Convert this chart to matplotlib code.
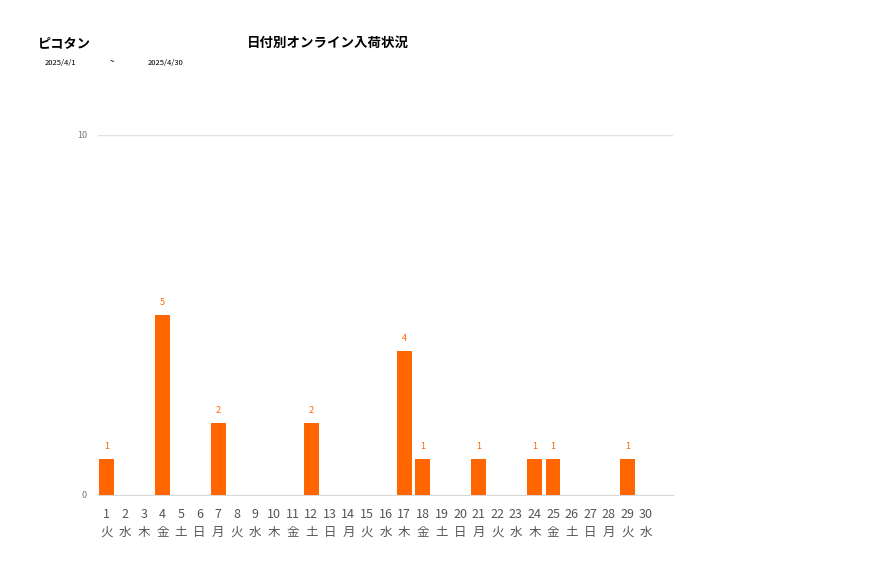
import matplotlib
matplotlib.use('Agg')
import matplotlib.pyplot as plt

plt.rcParams['font.family'] = ['Noto Sans CJK JP', 'DejaVu Sans']

# datos del grafico
dias = list(range(1, 31))
semana = ['火', '水', '木', '金', '土', '日', '月'] * 5
semana = semana[:30]
cantidad = [1, 0, 0, 5, 0, 0, 2, 0, 0, 0,
            0, 2, 0, 0, 0, 0, 4, 1, 0, 0,
            1, 0, 0, 1, 1, 0, 0, 0, 1, 0]
etiquetas_x = [f'{d}\n{s}' for d, s in zip(dias, semana)]

naranja = '#FF6600'

fig = plt.figure(figsize=(8.77, 5.78), dpi=100)
ax = fig.add_axes([98/877, 83/578, 575/877, 360/578])

ax.bar(dias, cantidad, width=0.8, color=naranja, zorder=3)
for d, c in zip(dias, cantidad):
    if c > 0:
        ax.text(d, c + 0.22, str(c), ha='center', va='bottom',
                fontsize=6.5, color=naranja)

ax.set_xlim(0.54, 31.45)
ax.set_ylim(0, 10)
ax.set_yticks([0, 10])
ax.set_yticklabels(['0', '10'], fontsize=6.5, color='#777777')
ax.set_xticks(dias)
ax.set_xticklabels(etiquetas_x, fontsize=9, color='#555555', linespacing=1.45)
ax.tick_params(axis='both', length=0)
ax.tick_params(axis='x', pad=9.5)
ax.tick_params(axis='y', pad=8)
ax.axhline(10, color='#e0e0e0', lw=1, zorder=1)
for s in ['top', 'right', 'left']:
    ax.spines[s].set_visible(False)
ax.spines['bottom'].set_color('#d8d8d8')

# titulos
fig.text(38/877, 1 - 43/578, 'ピコタン', fontsize=9.5, fontweight='bold',
         va='center', ha='left')
fig.text(247/877, 1 - 43/578, '日付別オンライン入荷状況', fontsize=9.7,
         fontweight='bold', va='center', ha='left')
fig.text(45/877, 1 - 63/578, '2025/4/1', fontsize=5.5, va='center', ha='left')
fig.text(110/877, 1 - 62/578, '~', fontsize=6, va='center', ha='left')
fig.text(148/877, 1 - 63/578, '2025/4/30', fontsize=5.5, va='center', ha='left')

plt.savefig('out.png', dpi=100)
